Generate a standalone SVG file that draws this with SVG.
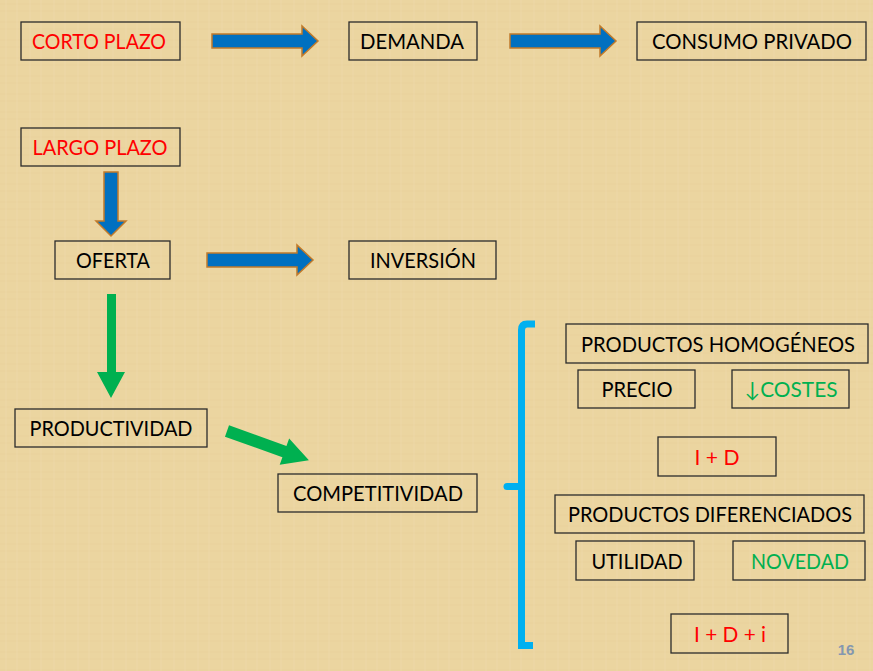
<svg xmlns="http://www.w3.org/2000/svg" width="873" height="671" viewBox="0 0 873 671">
<defs>
<pattern id="papyrus" width="24" height="18" patternUnits="userSpaceOnUse">
<rect width="24" height="18" fill="#ebd5a0"/>
<path d="M0 4H24M0 11H24" stroke="#dcc48f" stroke-width="1" opacity="0.25"/>
<path d="M6 0V18M17 0V18" stroke="#f3e2b6" stroke-width="1" opacity="0.3"/>
</pattern>
<style>
.box{fill:none;stroke:#2b2b2b;stroke-width:1.3}
.t{font-family:"Lato","Liberation Sans",sans-serif;font-size:21px;text-anchor:middle}
.k{fill:#000}
.r{fill:#ff0000}
.g{fill:#00b050}
.blue{fill:#0070c0;stroke:#c07a2a;stroke-width:1.5;stroke-linejoin:miter}
.green{fill:#00b050}
</style>
</defs>
<rect width="873" height="671" fill="url(#papyrus)"/>

<g id="connectors">
<polygon class="blue" points="212,34 302,34 302,26 318,41 302,56 302,48 212,48"/>
<polygon class="blue" points="510,34 600,34 600,26 616,41 600,56 600,48 510,48"/>
<polygon class="blue" points="207,253 297,253 297,245 313,260 297,275 297,267 207,267"/>
<polygon class="blue" points="104,172 118,172 118,221 126,221 111,236 96,221 104,221"/>
<polygon class="green" points="107,294 116,294 116,372 125,372 111,398 97,372 107,372"/>
<polygon class="green" transform="translate(227,431) rotate(19.7)" points="0,-6 61,-6 61,-14 87,0 61,14 61,6 0,6"/>
<path d="M535,324 H527 Q521.5,324 521.5,330 V645.5 H533" fill="none" stroke="#00b0f0" stroke-width="7" stroke-linejoin="miter"/>
<path d="M507,486.5 H521" fill="none" stroke="#00b0f0" stroke-width="7" stroke-linecap="round"/>
</g>

<g id="corto-plazo"><rect class="box" x="21" y="22" width="159" height="38"/><text class="t r" x="99" y="49" textLength="134" lengthAdjust="spacingAndGlyphs">CORTO PLAZO</text></g>
<g id="demanda"><rect class="box" x="349" y="22" width="128" height="38"/><text class="t k" x="412" y="49" textLength="104" lengthAdjust="spacingAndGlyphs">DEMANDA</text></g>
<g id="consumo-privado"><rect class="box" x="637" y="22" width="229" height="38"/><text class="t k" x="752" y="49" textLength="200" lengthAdjust="spacingAndGlyphs">CONSUMO PRIVADO</text></g>
<g id="largo-plazo"><rect class="box" x="21" y="128" width="159" height="38"/><text class="t r" x="100" y="155" textLength="135" lengthAdjust="spacingAndGlyphs">LARGO PLAZO</text></g>
<g id="oferta"><rect class="box" x="55" y="241" width="115" height="38"/><text class="t k" x="113" y="268" textLength="74" lengthAdjust="spacingAndGlyphs">OFERTA</text></g>
<g id="inversion"><rect class="box" x="349" y="241" width="147" height="38"/><text class="t k" x="423" y="268" textLength="106" lengthAdjust="spacingAndGlyphs">INVERSIÓN</text></g>
<g id="productividad"><rect class="box" x="15" y="409" width="192" height="38"/><text class="t k" x="111" y="436" textLength="163" lengthAdjust="spacingAndGlyphs">PRODUCTIVIDAD</text></g>
<g id="competitividad"><rect class="box" x="278" y="474" width="199" height="38"/><text class="t k" x="378" y="501" textLength="170" lengthAdjust="spacingAndGlyphs">COMPETITIVIDAD</text></g>
<g id="productos-homogeneos"><rect class="box" x="566" y="324" width="302" height="39"/><text class="t k" x="718" y="352" textLength="274" lengthAdjust="spacingAndGlyphs">PRODUCTOS HOMOGÉNEOS</text></g>
<g id="precio"><rect class="box" x="578" y="370" width="117" height="38"/><text class="t k" x="637" y="397" textLength="71" lengthAdjust="spacingAndGlyphs">PRECIO</text></g>
<g id="costes"><rect class="box" x="732" y="370" width="117" height="38"/><text class="t g" x="791" y="397" textLength="93" lengthAdjust="spacingAndGlyphs">↓COSTES</text></g>
<g id="i-d"><rect class="box" x="658" y="437" width="118" height="39"/><text class="t r" x="717" y="465" textLength="45" lengthAdjust="spacingAndGlyphs">I + D</text></g>
<g id="productos-diferenciados"><rect class="box" x="555" y="495" width="309" height="38"/><text class="t k" x="710" y="522" textLength="284" lengthAdjust="spacingAndGlyphs">PRODUCTOS DIFERENCIADOS</text></g>
<g id="utilidad"><rect class="box" x="576" y="541" width="118" height="39"/><text class="t k" x="637" y="569" textLength="91" lengthAdjust="spacingAndGlyphs">UTILIDAD</text></g>
<g id="novedad"><rect class="box" x="733" y="541" width="132" height="39"/><text class="t g" x="800" y="569" textLength="98" lengthAdjust="spacingAndGlyphs">NOVEDAD</text></g>
<g id="i-d-i"><rect class="box" x="671" y="614" width="117" height="39"/><text class="t r" x="730" y="642" textLength="72" lengthAdjust="spacingAndGlyphs">I + D + i</text></g>

<text x="846" y="655" font-family="Liberation Sans, Arial, sans-serif" font-size="15" font-weight="bold" fill="#8497b0" text-anchor="middle">16</text>
</svg>
